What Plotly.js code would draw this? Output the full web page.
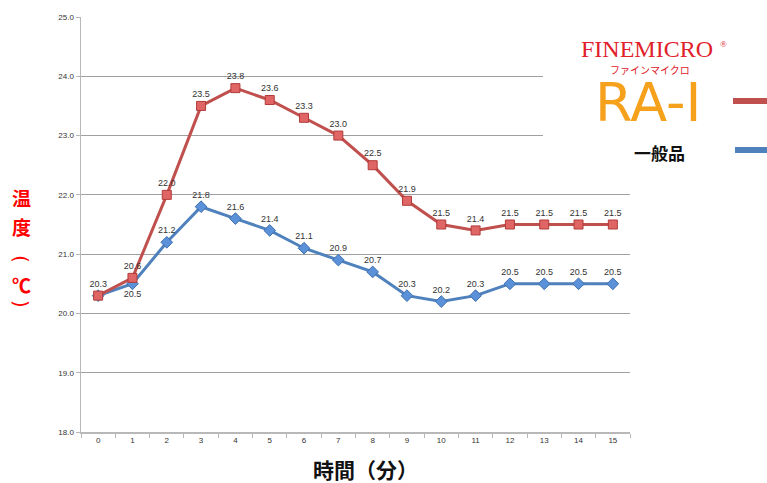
<!DOCTYPE html>
<html>
<head>
<meta charset="utf-8">
<script src="https://cdn.plot.ly/plotly-3.0.1.min.js"></script>
<style>html,body{margin:0;padding:0;background:#fff;}#chart{width:767px;height:483px;}</style>
</head>
<body>
<div id="chart"></div>
<script>
const minutes = [0,1,2,3,4,5,6,7,8,9,10,11,12,13,14,15];
const ra1Temps = [20.3,20.6,22.0,23.5,23.8,23.6,23.3,23.0,22.5,21.9,21.5,21.4,21.5,21.5,21.5,21.5];
const generalTemps = [20.3,20.5,21.2,21.8,21.6,21.4,21.1,20.9,20.7,20.3,20.2,20.3,20.5,20.5,20.5,20.5];
const yTicks = [18,19,20,21,22,23,24,25];
const xTitle = '時間（分）';
const yTitleChars = ['温','度','(','℃',')'];
const legendBrand = 'FINEMICRO';
const legendReg = '®';
const legendKana = 'ファインマイクロ';
const legendRA = 'RA-I';
const legendGeneral = '一般品';

const fmt = v => v.toFixed(1);
const genPos = minutes.map(m => m === 1 ? 'bottom center' : 'top center');
// the first point's label coincides with the RA-I label, so it is shown once
const genText = generalTemps.map((v, i) => i === 0 ? ' ' : fmt(v));

const traces = [
  {
    x: minutes, y: generalTemps, type: 'scatter', mode: 'lines+markers+text',
    line: {color: '#4f81bd', width: 3},
    marker: {symbol: 'diamond', size: 9, color: '#5b91d8', line: {color: '#3f6fae', width: 1}},
    text: genText, textposition: genPos,
    textfont: {family: 'Liberation Sans, Arial, sans-serif', size: 9, color: '#333'},
    hoverinfo: 'none', cliponaxis: false
  },
  {
    x: minutes, y: ra1Temps, type: 'scatter', mode: 'lines+markers+text',
    line: {color: '#c0504d', width: 3},
    marker: {symbol: 'square', size: 9, color: '#e06666', line: {color: '#b23a38', width: 1}},
    text: ra1Temps.map(fmt), textposition: 'top center',
    textfont: {family: 'Liberation Sans, Arial, sans-serif', size: 9, color: '#333'},
    hoverinfo: 'none', cliponaxis: false
  }
];

const px = (x) => (x - 81) / 549;
const py = (y) => 1 - (y - 17) / 415;

const annotations = [];
const yPos = [197, 226, 259, 284, 304];
yTitleChars.forEach((c, i) => {
  const paren = (c === '(' || c === ')');
  annotations.push({xref: 'paper', yref: 'paper', x: px(21), y: py(yPos[i]),
    xanchor: 'center', yanchor: 'middle', showarrow: false,
    text: paren ? c : '<b>' + c + '</b>',
    textangle: paren ? 90 : 0,
    font: {family: paren ? 'DejaVu Sans' : 'Noto Sans CJK JP', size: paren ? 20 : 19, color: '#ff0000'}});
});
annotations.push({xref: 'paper', yref: 'paper', x: px(365), y: py(469),
  xanchor: 'center', yanchor: 'middle', showarrow: false, text: '<b>' + xTitle + '</b>',
  font: {family: 'Noto Sans CJK JP', size: 21, color: '#111'}});
// legend
annotations.push({xref: 'paper', yref: 'paper', x: px(647), y: py(49), xanchor: 'center', yanchor: 'middle',
  showarrow: false, text: legendBrand, font: {family: 'Liberation Serif', size: 24, color: '#e0202a'}});
annotations.push({xref: 'paper', yref: 'paper', x: px(723), y: py(44), xanchor: 'center', yanchor: 'middle',
  showarrow: false, text: legendReg, font: {family: 'Liberation Serif', size: 9, color: '#e0202a'}});
annotations.push({xref: 'paper', yref: 'paper', x: px(650), y: py(70), xanchor: 'center', yanchor: 'middle',
  showarrow: false, text: legendKana, font: {family: 'Noto Sans CJK JP', size: 10, color: '#e0202a'}});
annotations.push({xref: 'paper', yref: 'paper', x: px(648), y: py(102), xanchor: 'center', yanchor: 'middle',
  showarrow: false, text: legendRA, font: {family: 'DejaVu Sans', size: 54, color: '#f6a11c'}});
annotations.push({xref: 'paper', yref: 'paper', x: px(659), y: py(152), xanchor: 'center', yanchor: 'middle',
  showarrow: false, text: '<b>' + legendGeneral + '</b>', font: {family: 'Noto Sans CJK JP', size: 17, color: '#111'}});

const shapes = [
  {type: 'rect', xref: 'paper', yref: 'paper', x0: px(543), x1: px(767), y0: py(175), y1: py(0),
    fillcolor: '#ffffff', line: {width: 0}, layer: 'above'},
  {type: 'line', xref: 'paper', yref: 'paper', x0: px(733), x1: px(767), y0: py(101), y1: py(101),
    line: {color: '#c0504d', width: 6}},
  {type: 'line', xref: 'paper', yref: 'paper', x0: px(735), x1: px(767), y0: py(150), y1: py(150),
    line: {color: '#4f81bd', width: 6}}
];

const layout = {
  width: 767, height: 483,
  margin: {l: 81, r: 137, t: 17, b: 51},
  paper_bgcolor: '#fff', plot_bgcolor: '#fff',
  showlegend: false,
  xaxis: {
    range: [-0.5, 15.5], tickmode: 'array', tickvals: minutes, ticktext: minutes.map(String),
    ticks: '', showgrid: false, zeroline: false, showline: true, linecolor: '#b8b8b8', linewidth: 1.5,
    tickfont: {family: 'Liberation Sans Narrow, Liberation Sans, sans-serif', size: 8, color: '#333'},
    minor: {tick0: 0.5, dtick: 1, ticks: 'outside', ticklen: 4, tickcolor: '#b8b8b8', showgrid: false},
    fixedrange: true
  },
  yaxis: {
    range: [18, 25], tickmode: 'array', tickvals: yTicks, ticktext: yTicks.map(fmt),
    ticks: 'outside', ticklen: 4, tickcolor: '#b8b8b8', showgrid: true, gridcolor: '#a0a0a0', gridwidth: 1,
    zeroline: false, showline: true, linecolor: '#b8b8b8', linewidth: 1.5,
    tickfont: {family: 'Liberation Sans Narrow, Liberation Sans, sans-serif', size: 8, color: '#333'},
    fixedrange: true
  },
  annotations: annotations,
  shapes: shapes
};

Plotly.newPlot('chart', traces, layout, {displayModeBar: false, staticPlot: true});
</script>
</body>
</html>
